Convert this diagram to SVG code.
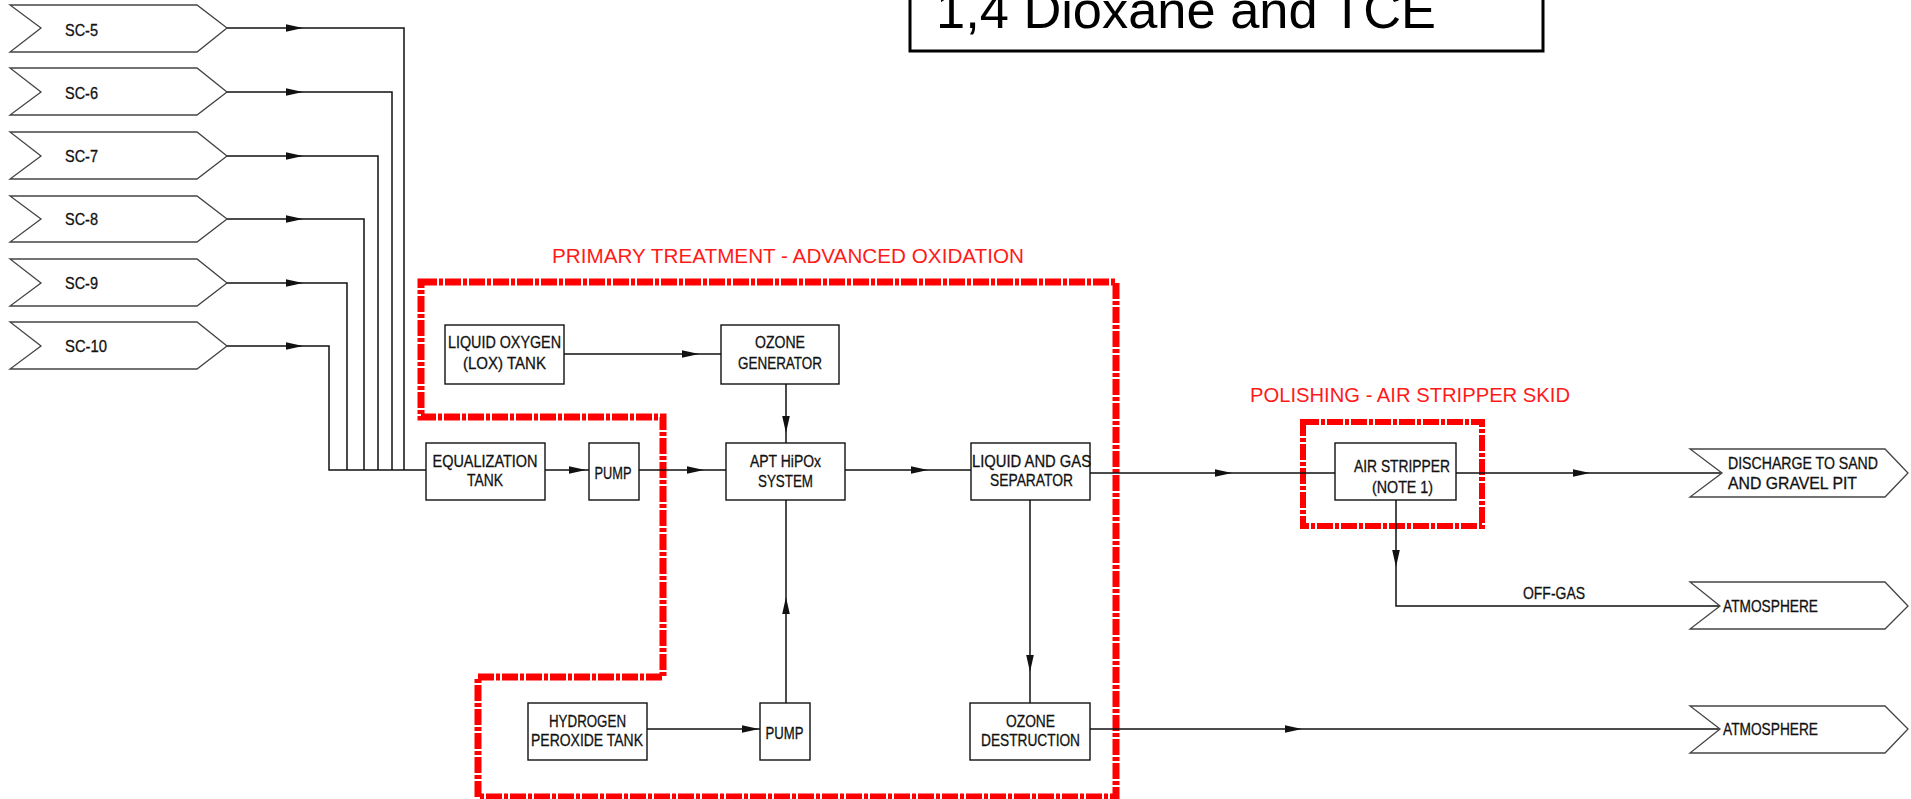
<svg xmlns="http://www.w3.org/2000/svg" xmlns:xlink="http://www.w3.org/1999/xlink" width="1911" height="799" viewBox="0 0 1911 799">
<style>
  .bg { fill: #ffffff; }
  .box { fill: #ffffff; stroke: #111111; stroke-width: 1.4; }
  .chev { fill: #ffffff; stroke: #444444; stroke-width: 1.3; }
  .lbl { font-family: "Liberation Sans", Arial, sans-serif; font-size: 16.5px; fill: #111111; stroke: #111111; stroke-width: 0.3; }
  .mid { text-anchor: middle; }
  .conn { fill: none; stroke: #111111; stroke-width: 1.5; }
  .red { fill: none; stroke: #ff0000; stroke-width: 7; stroke-dasharray: 16 2 4 2; }
  .redsm { fill: none; stroke: #ff0000; stroke-width: 6; stroke-dasharray: 16 2 4 2; }
  .redtxt { font-family: "Liberation Sans", Arial, sans-serif; font-size: 20.5px; fill: #ff1a1a; }
  .title { font-family: "Liberation Sans", Arial, sans-serif; font-size: 52px; fill: #000000; }
</style>
<defs>
  <path id="ah" d="M0,0 L-17,-3.8 L-17,3.8 Z" fill="#111111"/>
</defs>
<rect class="bg" x="0" y="0" width="1911" height="799"/>

<!-- Title box -->
<g id="title">
  <rect x="910" y="-20" width="633" height="71" fill="#ffffff" stroke="#000000" stroke-width="3"/>
  <text class="title" x="936" y="28" textLength="500" lengthAdjust="spacingAndGlyphs">1,4 Dioxane and TCE</text>
</g>

<!-- Red boundaries -->
<g id="primary-boundary">
  <path class="red" d="M421,282 L1116,282 L1116,797 L478,797 L478,677 L663,677 L663,417 L421,417 Z"/>
  <text class="redtxt" x="552" y="263" textLength="472" lengthAdjust="spacingAndGlyphs">PRIMARY TREATMENT - ADVANCED OXIDATION</text>
</g>
<g id="polishing-boundary">
  <rect class="redsm" x="1303" y="422" width="179" height="104"/>
  <text class="redtxt" x="1250" y="402" textLength="320" lengthAdjust="spacingAndGlyphs">POLISHING - AIR STRIPPER SKID</text>
</g>

<!-- Connectors -->
<g id="connectors">
  <path class="conn" d="M227,28 H404 V470"/>
  <path class="conn" d="M227,92 H392 V470"/>
  <path class="conn" d="M227,156 H378 V470"/>
  <path class="conn" d="M227,219 H364 V470"/>
  <path class="conn" d="M227,283 H347 V470"/>
  <path class="conn" d="M227,346 H329 V470 H426"/>
  <use xlink:href="#ah" transform="translate(303,28)"/>
  <use xlink:href="#ah" transform="translate(303,92)"/>
  <use xlink:href="#ah" transform="translate(303,156)"/>
  <use xlink:href="#ah" transform="translate(303,219)"/>
  <use xlink:href="#ah" transform="translate(303,283)"/>
  <use xlink:href="#ah" transform="translate(303,346)"/>

  <path class="conn" d="M545,470 H589"/>
  <use xlink:href="#ah" transform="translate(586,470)"/>
  <path class="conn" d="M639,470 H726"/>
  <use xlink:href="#ah" transform="translate(704,470)"/>
  <path class="conn" d="M845,470 H971"/>
  <use xlink:href="#ah" transform="translate(928,470)"/>
  <path class="conn" d="M1090,473 H1335"/>
  <use xlink:href="#ah" transform="translate(1232,473)"/>
  <path class="conn" d="M1456,473 H1722"/>
  <use xlink:href="#ah" transform="translate(1590,473)"/>

  <path class="conn" d="M564,354 H721"/>
  <use xlink:href="#ah" transform="translate(699,354)"/>
  <path class="conn" d="M786,384 V443"/>
  <use xlink:href="#ah" transform="translate(786,433) rotate(90)"/>

  <path class="conn" d="M647,729 H760"/>
  <use xlink:href="#ah" transform="translate(759,729)"/>
  <path class="conn" d="M786,703 V500"/>
  <use xlink:href="#ah" transform="translate(786,597) rotate(-90)"/>

  <path class="conn" d="M1030,500 V703"/>
  <use xlink:href="#ah" transform="translate(1030,672) rotate(90)"/>
  <path class="conn" d="M1090,729 H1720"/>
  <use xlink:href="#ah" transform="translate(1302,729)"/>

  <path class="conn" d="M1396,500 V606 H1720"/>
  <use xlink:href="#ah" transform="translate(1396,567) rotate(90)"/>
  <text class="lbl" x="1523" y="598.5" textLength="62" lengthAdjust="spacingAndGlyphs">OFF-GAS</text>
</g>

<!-- Source chevrons -->
<g id="sc5"><path class="chev" d="M10,5 L197,5 L227,28 L197,52 L10,52 L41,28 Z"/><text class="lbl" x="65" y="35.5" textLength="33" lengthAdjust="spacingAndGlyphs">SC-5</text></g>
<g id="sc6"><path class="chev" d="M10,68 L197,68 L227,92 L197,115 L10,115 L41,92 Z"/><text class="lbl" x="65" y="98.5" textLength="33" lengthAdjust="spacingAndGlyphs">SC-6</text></g>
<g id="sc7"><path class="chev" d="M10,132 L197,132 L227,156 L197,179 L10,179 L41,156 Z"/><text class="lbl" x="65" y="161.5" textLength="33" lengthAdjust="spacingAndGlyphs">SC-7</text></g>
<g id="sc8"><path class="chev" d="M10,196 L197,196 L227,219 L197,242 L10,242 L41,219 Z"/><text class="lbl" x="65" y="224.5" textLength="33" lengthAdjust="spacingAndGlyphs">SC-8</text></g>
<g id="sc9"><path class="chev" d="M10,259 L197,259 L227,283 L197,306 L10,306 L41,283 Z"/><text class="lbl" x="65" y="288.5" textLength="33" lengthAdjust="spacingAndGlyphs">SC-9</text></g>
<g id="sc10"><path class="chev" d="M10,322 L197,322 L227,346 L197,369 L10,369 L41,346 Z"/><text class="lbl" x="65" y="351.5" textLength="42" lengthAdjust="spacingAndGlyphs">SC-10</text></g>

<!-- Process boxes -->
<g id="lox-tank">
  <rect class="box" x="445" y="325" width="119" height="59"/>
  <text class="lbl mid" x="504.5" y="347.5" textLength="113" lengthAdjust="spacingAndGlyphs">LIQUID OXYGEN</text>
  <text class="lbl mid" x="504.5" y="368.5" textLength="83" lengthAdjust="spacingAndGlyphs">(LOX) TANK</text>
</g>
<g id="ozone-generator">
  <rect class="box" x="721" y="325" width="118" height="59"/>
  <text class="lbl mid" x="780" y="347.5" textLength="50" lengthAdjust="spacingAndGlyphs">OZONE</text>
  <text class="lbl mid" x="780" y="368.5" textLength="84" lengthAdjust="spacingAndGlyphs">GENERATOR</text>
</g>
<g id="equalization-tank">
  <rect class="box" x="426" y="443" width="119" height="57"/>
  <text class="lbl mid" x="485" y="466.5" textLength="105" lengthAdjust="spacingAndGlyphs">EQUALIZATION</text>
  <text class="lbl mid" x="485" y="486" textLength="36" lengthAdjust="spacingAndGlyphs">TANK</text>
</g>
<g id="pump-1">
  <rect class="box" x="589" y="443" width="50" height="57"/>
  <text class="lbl mid" x="613" y="478.5" textLength="37" lengthAdjust="spacingAndGlyphs">PUMP</text>
</g>
<g id="apt-hipox">
  <rect class="box" x="726" y="443" width="119" height="57"/>
  <text class="lbl mid" x="785.5" y="466.5" textLength="71" lengthAdjust="spacingAndGlyphs">APT HiPOx</text>
  <text class="lbl mid" x="785.5" y="486.5" textLength="55" lengthAdjust="spacingAndGlyphs">SYSTEM</text>
</g>
<g id="separator">
  <rect class="box" x="971" y="443" width="119" height="57"/>
  <text class="lbl mid" x="1031.5" y="466.5" textLength="119" lengthAdjust="spacingAndGlyphs">LIQUID AND GAS</text>
  <text class="lbl mid" x="1031.5" y="486" textLength="83" lengthAdjust="spacingAndGlyphs">SEPARATOR</text>
</g>
<g id="air-stripper">
  <rect class="box" x="1335" y="443" width="121" height="57"/>
  <text class="lbl mid" x="1402" y="471.5" textLength="96" lengthAdjust="spacingAndGlyphs">AIR STRIPPER</text>
  <text class="lbl mid" x="1402.5" y="492.5" textLength="61" lengthAdjust="spacingAndGlyphs">(NOTE 1)</text>
</g>
<g id="h2o2-tank">
  <rect class="box" x="528" y="703" width="119" height="57"/>
  <text class="lbl mid" x="587.5" y="726.5" textLength="77" lengthAdjust="spacingAndGlyphs">HYDROGEN</text>
  <text class="lbl mid" x="587" y="745.5" textLength="112" lengthAdjust="spacingAndGlyphs">PEROXIDE TANK</text>
</g>
<g id="pump-2">
  <rect class="box" x="760" y="703" width="50" height="57"/>
  <text class="lbl mid" x="784.5" y="738.5" textLength="38" lengthAdjust="spacingAndGlyphs">PUMP</text>
</g>
<g id="ozone-destruction">
  <rect class="box" x="970" y="703" width="120" height="57"/>
  <text class="lbl mid" x="1030.5" y="726.5" textLength="49" lengthAdjust="spacingAndGlyphs">OZONE</text>
  <text class="lbl mid" x="1030.5" y="745.5" textLength="99" lengthAdjust="spacingAndGlyphs">DESTRUCTION</text>
</g>

<!-- Destination chevrons -->
<g id="discharge">
  <path class="chev" d="M1690,449 L1885,449 L1908,473 L1885,497 L1690,497 L1722,473 Z"/>
  <text class="lbl" x="1728" y="468.5" textLength="150" lengthAdjust="spacingAndGlyphs">DISCHARGE TO SAND</text>
  <text class="lbl" x="1728" y="488.5" textLength="129" lengthAdjust="spacingAndGlyphs">AND GRAVEL PIT</text>
</g>
<g id="atmosphere-1">
  <path class="chev" d="M1690,582 L1885,582 L1908,606 L1885,629 L1690,629 L1720,606 Z"/>
  <text class="lbl" x="1723" y="611.5" textLength="95" lengthAdjust="spacingAndGlyphs">ATMOSPHERE</text>
</g>
<g id="atmosphere-2">
  <path class="chev" d="M1690,706 L1885,706 L1908,729 L1885,753 L1690,753 L1720,729 Z"/>
  <text class="lbl" x="1723" y="734.5" textLength="95" lengthAdjust="spacingAndGlyphs">ATMOSPHERE</text>
</g>
</svg>
